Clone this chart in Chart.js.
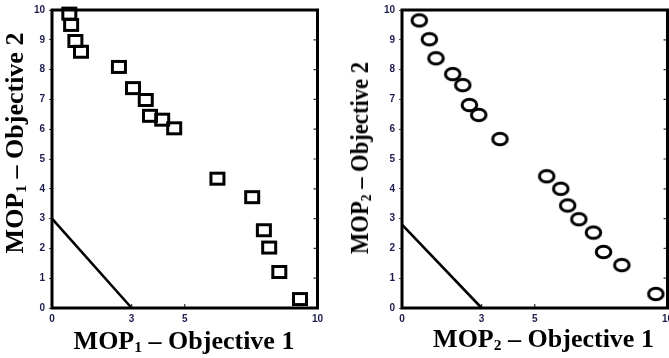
<!DOCTYPE html>
<html>
<head>
<meta charset="utf-8">
<script src="https://cdn.jsdelivr.net/npm/chart.js@4.4.1/dist/chart.umd.min.js"></script>
<style>
  html, body { margin: 0; padding: 0; background: #fff; }
  body { width: 669px; height: 358px; position: relative; overflow: hidden; }
  canvas { position: absolute; top: 0; }
  #c1 { left: 0; }
  #c2 { left: 350px; }
  .ttl {
    position: absolute;
    font-family: "Liberation Serif", "Times New Roman", serif;
    font-weight: bold;
    font-size: 26px;
    line-height: 26px;
    height: 26px;
    width: 300px;
    text-align: center;
    white-space: nowrap;
    color: #000;
  }
  .ttl .sb { font-size: 0.6em; position: relative; top: 0.22em; }
</style>
</head>
<body>
<canvas id="c1" width="335" height="358"></canvas>
<canvas id="c2" width="330" height="358"></canvas>

<div class="ttl" id="t1x" style="left:34px; top:328px;">MOP<span class="sb">1</span> – Objective 1</div>
<div class="ttl" id="t1y" style="left:-134.8px; top:129.5px; transform: rotate(-90deg);">MOP<span class="sb">1</span> – Objective 2</div>
<div class="ttl" id="t2x" style="left:393.5px; top:326px;">MOP<span class="sb">2</span> – Objective 1</div>
<div class="ttl" id="t2y" style="left:210px; top:144.5px; transform: rotate(-90deg) scaleX(0.87);">MOP<span class="sb">2</span> – Objective 2</div>

<script>
// Tick values on both axes
const xTicks = [0, 3, 5, 10];
const yTicks = [0, 1, 2, 3, 4, 5, 6, 7, 8, 9, 10];

// MOP1 solutions (squares)
const mop1Obj1 = [0.65, 0.72, 0.88, 1.09, 2.52, 3.05, 3.53, 3.69, 4.15, 4.60, 6.23, 7.54, 7.98, 8.18, 8.56, 9.34];
const mop1Obj2 = [9.88, 9.50, 8.96, 8.60, 8.09, 7.38, 6.98, 6.45, 6.32, 6.03, 4.34, 3.72, 2.61, 2.03, 1.21, 0.30];

// MOP2 solutions (circles)
const mop2Obj1 = [0.65, 1.03, 1.28, 1.91, 2.29, 2.54, 2.89, 3.69, 5.45, 5.98, 6.24, 6.66, 7.21, 7.59, 8.28, 9.56];
const mop2Obj2 = [9.65, 9.02, 8.38, 7.85, 7.48, 6.81, 6.48, 5.67, 4.42, 4.00, 3.44, 2.98, 2.53, 1.88, 1.44, 0.47];

// Straight boundary lines
const boundObj1 = [0, 3];
const bound1Obj2 = [3, 0];
const bound2Obj2 = [2.8, 0];

// Unfilled marker glyphs (slightly wider than tall)
function squareMarker() {
  const c = document.createElement('canvas');
  c.width = 20; c.height = 18;
  const g = c.getContext('2d');
  g.strokeStyle = '#000';
  g.lineWidth = 3;
  g.strokeRect(3.5, 3.5, 13, 11);
  return c;
}
function circleMarker() {
  const c = document.createElement('canvas');
  c.width = 21; c.height = 18;
  const g = c.getContext('2d');
  g.strokeStyle = '#000';
  g.lineWidth = 3;
  g.beginPath();
  g.ellipse(10.5, 9, 7.3, 5.8, 0, 0, Math.PI * 2);
  g.stroke();
  return c;
}

// Heavy frame around the plot area plus small inward tick marks
const framePlugin = {
  id: 'frame',
  afterDraw(chart) {
    const { ctx, chartArea: a, scales } = chart;
    ctx.save();
    ctx.strokeStyle = '#333';
    ctx.lineWidth = 1.2;
    ctx.beginPath();
    yTicks.forEach(v => {
      const y = scales.y.getPixelForValue(v);
      ctx.moveTo(a.right - 4, y); ctx.lineTo(a.right, y);
    });
    xTicks.forEach(v => {
      const x = scales.x.getPixelForValue(v);
      ctx.moveTo(x, a.bottom - 4); ctx.lineTo(x, a.bottom);
    });
    ctx.stroke();
    ctx.strokeStyle = '#000';
    ctx.lineWidth = 3;
    ctx.strokeRect(a.left, a.top, a.right - a.left, a.bottom - a.top);
    ctx.restore();
  }
};

const tickFont = { family: '"Liberation Sans", Arial, sans-serif', size: 10, weight: 'bold' };
const tickColor = '#1c1c4c';

function makeChart(id, xs, ys, boundY, marker, padRight) {
  const pts = xs.map((x, i) => ({ x: x, y: ys[i] }));
  const line = boundObj1.map((x, i) => ({ x: x, y: boundY[i] }));
  return new Chart(document.getElementById(id), {
    type: 'scatter',
    data: {
      datasets: [
        {
          type: 'line',
          data: line,
          borderColor: '#000',
          borderWidth: 2.6,
          pointRadius: 0,
          fill: false,
          clip: false
        },
        {
          data: pts,
          pointStyle: marker,
          pointRadius: 8,
          clip: false
        }
      ]
    },
    options: {
      responsive: false,
      animation: false,
      events: [],
      layout: { padding: { left: 0, top: 9, right: padRight, bottom: 0 } },
      plugins: { legend: { display: false }, tooltip: { enabled: false } },
      scales: {
        x: {
          type: 'linear',
          min: 0, max: 10,
          afterBuildTicks(s) { s.ticks = xTicks.map(v => ({ value: v })); },
          afterFit(s) { s.height = 50; },
          grid: { display: true, drawOnChartArea: false, drawTicks: false },
          border: { display: false },
          ticks: { font: tickFont, color: tickColor, padding: 5, maxRotation: 0, autoSkip: false }
        },
        y: {
          type: 'linear',
          min: 0, max: 10,
          afterBuildTicks(s) { s.ticks = yTicks.map(v => ({ value: v })); },
          afterFit(s) { s.width = 52; },
          grid: { display: true, drawOnChartArea: false, drawTicks: true, tickLength: 3, color: '#444' },
          border: { display: false },
          ticks: { font: tickFont, color: tickColor, padding: 4, autoSkip: false }
        }
      }
    },
    plugins: [framePlugin]
  });
}

makeChart('c1', mop1Obj1, mop1Obj2, bound1Obj2, squareMarker(), 17.5);
makeChart('c2', mop2Obj1, mop2Obj2, bound2Obj2, circleMarker(), 12.5);
</script>
</body>
</html>
